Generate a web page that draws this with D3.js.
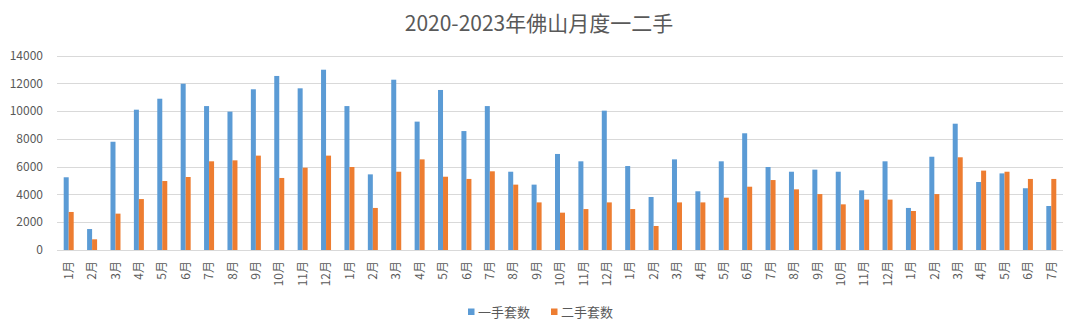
<!DOCTYPE html>
<html><head><meta charset="utf-8">
<script src="https://cdn.jsdelivr.net/npm/d3@7"></script>
<style>body{margin:0;background:#fff;}svg{display:block;}</style>
</head><body>
<svg id="c" width="1080" height="334"></svg>
<script>
const categories = ["1月","2月","3月","4月","5月","6月","7月","8月","9月","10月","11月","12月",
"1月","2月","3月","4月","5月","6月","7月","8月","9月","10月","11月","12月",
"1月","2月","3月","4月","5月","6月","7月","8月","9月","10月","11月","12月",
"1月","2月","3月","4月","5月","6月","7月"];
const newHomes = [5240,1510,7800,10110,10900,11980,10370,9970,11580,12540,11650,12990,
10370,5450,12270,9250,11530,8570,10370,5640,4710,6920,6390,10040,
6050,3820,6530,4230,6390,8410,5980,5640,5790,5640,4300,6390,
3030,6720,9100,4900,5520,4450,3170];
const resaleHomes = [2740,770,2620,3670,4970,5260,6390,6460,6800,5190,5930,6800,
5980,3030,5640,6530,5280,5120,5670,4710,3430,2690,2950,3430,
2950,1730,3430,3430,3770,4560,5040,4370,4030,3290,3630,3630,
2810,4030,6680,5720,5640,5120,5120];
const yTicks = [0,2000,4000,6000,8000,10000,12000,14000];
const seriesNames = ["一手套数","二手套数"];
const colors = ["#5B9BD5","#ED7D31"];
const title = "2020-2023年佛山月度一二手";

const svg = d3.select("#c");
const font = "'Noto Sans CJK SC','Microsoft YaHei',sans-serif";
const mLeft = 57, mRight = 1063, mTop = 55.7, mBottom = 250;

const x = d3.scaleBand().domain(d3.range(categories.length)).range([mLeft, mRight]).padding(0);
const xs = d3.scaleBand().domain([0,1]).range([0, x.bandwidth()]).paddingInner(0).paddingOuter(1.34);
const y = d3.scaleLinear().domain([0,14000]).range([mBottom, mTop]);

// gridlines
svg.append("g").selectAll("line").data(yTicks).join("line")
  .attr("x1", mLeft).attr("x2", mRight)
  .attr("y1", d => Math.round(y(d)) + 0.5).attr("y2", d => Math.round(y(d)) + 0.5)
  .attr("stroke", "#D9D9D9").attr("stroke-width", 1);

// y labels
svg.append("g").selectAll("text").data(yTicks).join("text")
  .attr("x", 43).attr("y", d => y(d)).attr("dy", "0.35em")
  .attr("text-anchor", "end").attr("fill", "#595959")
  .style("font-family", font).style("font-size", "12px")
  .text(d => d);

// bars
const series = [newHomes, resaleHomes];
series.forEach((vals, si) => {
  svg.append("g").selectAll("rect").data(vals).join("rect")
    .attr("x", (d,i) => x(i) + xs(si))
    .attr("width", xs.bandwidth())
    .attr("y", d => y(d))
    .attr("height", d => y(0) - y(d))
    .attr("fill", colors[si]);
});

// x labels
svg.append("g").selectAll("text").data(categories).join("text")
  .attr("transform", (d,i) => `translate(${x(i) + x.bandwidth()/2},261) rotate(-90)`)
  .attr("dy", "0.35em").attr("text-anchor", "end")
  .attr("fill", "#595959").style("font-family", font).style("font-size", "12px")
  .text(d => d);

// title
svg.append("text").attr("x", 539).attr("y", 31).attr("text-anchor", "middle")
  .attr("fill", "#595959").style("font-family", font).style("font-size", "21px")
  .text(title);

// legend
const lg = svg.append("g");
const legendX = [468, 551];
seriesNames.forEach((n, i) => {
  lg.append("rect").attr("x", legendX[i]).attr("y", 308.5).attr("width", 6.5).attr("height", 6.5).attr("fill", colors[i]);
  lg.append("text").attr("x", legendX[i] + 10).attr("y", 312).attr("dy", "0.35em")
    .attr("fill", "#595959").style("font-family", font).style("font-size", "13px").text(n);
});
</script>
</body></html>
